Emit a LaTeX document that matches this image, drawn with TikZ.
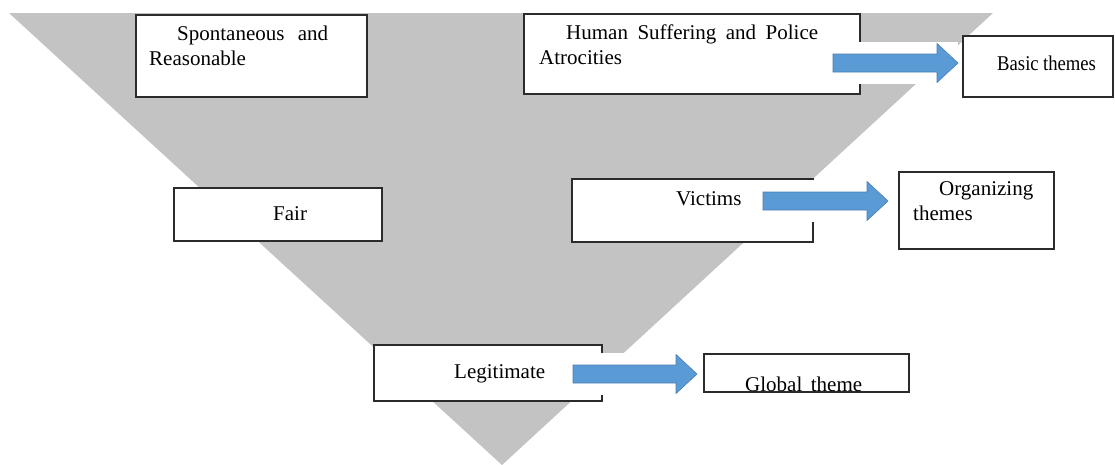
\documentclass[tikz,border=0pt]{standalone}
\usepackage{graphicx}
\usepackage{fontspec}
\setmainfont{Liberation Serif}
\usetikzlibrary{calc}

\definecolor{coneGrey}{HTML}{C3C3C3}
\definecolor{arrowBlue}{HTML}{5B9BD5}
\definecolor{arrowEdge}{HTML}{4A7EB5}
\definecolor{frameInk}{HTML}{2B2B2B}

% block arrow from #1 (tail, middle of the shaft) to #2 (tip),
% laid on a white patch as tall as its head
\newcommand\themearrow[2]{%
  \fill[white] ($(#1)+(0,-21)$) rectangle ($(#2)+(0,21)$);
  \draw[blockarrow] ($(#1)+(0,-9)$) -- ($(#2)+(-21,-9)$) -- ($(#2)+(-21,-19.5)$)
    -- (#2) -- ($(#2)+(-21,19.5)$) -- ($(#2)+(-21,9)$) -- ($(#1)+(0,9)$) -- cycle;}

\begin{document}
\begin{tikzpicture}[x=1pt,y=-1pt,
  themebox/.style={draw=frameInk, line width=1.3pt, fill=white, rectangle,
    inner sep=0pt, outer sep=0pt},
  lbl/.style={anchor=base west, inner sep=0pt,
    font=\fontsize{21}{25}\selectfont, text=black},
  blockarrow/.style={fill=arrowBlue, draw=arrowEdge, line width=0.6pt, line join=miter}]

\useasboundingbox (0,0) rectangle (1115,464);

% inverted cone
\fill[coneGrey] (9,13) -- (993,13) -- (502,465) -- cycle;

% theme boxes
\node[themebox, minimum width=231pt, minimum height=82pt] (sp) at (251.5,56) {};
\node[themebox, minimum width=336pt, minimum height=80pt] (hs) at (692,54) {};
\node[themebox, minimum width=150pt, minimum height=61pt] (bt) at (1038,66.5) {};
\node[themebox, minimum width=208pt, minimum height=53pt] (fa) at (278,214.5) {};
\node[themebox, minimum width=241pt, minimum height=63pt] (vi) at (692.5,210.5) {};
\node[themebox, minimum width=155pt, minimum height=77pt] (og) at (976.5,210.5) {};
\node[themebox, minimum width=228pt, minimum height=56pt] (lg) at (488,373) {};
\node[themebox, minimum width=205pt, minimum height=38pt] (gt) at (806.5,373) {};

% texts
\node[lbl] (spA) at (177,40) {\makebox[151pt][s]{Spontaneous and}};
\node[lbl] (spB) at (149,65) {Reasonable};
\node[lbl] (hsA) at (566,39) {\makebox[252pt][s]{Human Suffering and Police}};
\node[lbl] (hsB) at (539,64) {Atrocities};
\node[lbl] (btA) at (997,70) {\scalebox{0.89}[1]{\makebox[111pt][s]{Basic themes}}};
\node[lbl] (faA) at (273,220) {Fair};
\node[lbl] (viA) at (676,205) {Victims};
\node[lbl] (ogA) at (939,195) {Organizing};
\node[lbl] (ogB) at (913,220) {themes};
\node[lbl] (lgA) at (454,378) {Legitimate};
\node[lbl] (gtA) at (745,391) {\makebox[117pt][s]{Global theme}};

% arrows between levels
\coordinate (a1s) at (833,63);
\coordinate (a1e) at ($(a1s -| bt.west)+(-5,0)$);
\coordinate (a2s) at (763,201);
\coordinate (a2e) at ($(a2s -| og.west)+(-11,0)$);
\coordinate (a3s) at (573,374);
\coordinate (a3e) at ($(a3s -| gt.west)+(-7,0)$);
\themearrow{a1s}{a1e}
\themearrow{a2s}{a2e}
\themearrow{a3s}{a3e}
\end{tikzpicture}
\end{document}
